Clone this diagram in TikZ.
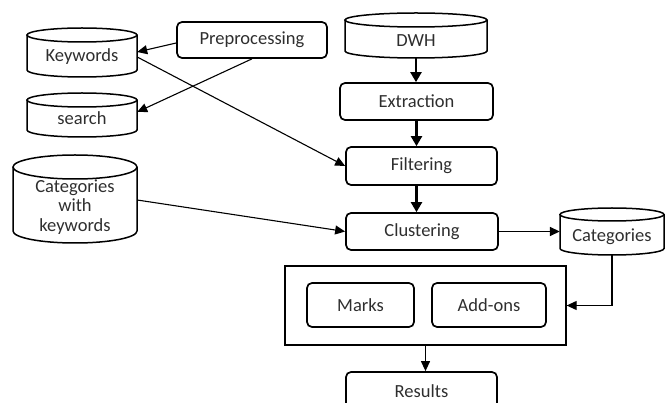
\documentclass[tikz,border=0pt]{standalone}
\usepackage{fontspec}
\setmainfont{Carlito}
\usetikzlibrary{arrows.meta,calc}

\tikzset{
  lbl/.style={text=black!82, font=\fontsize{18.5}{19.5}\selectfont},
  procbox/.style={draw, line width=1.7pt, rounded corners=5pt, lbl, inner sep=0pt},
  cylline/.style={draw, line width=1.5pt},
  cyltext/.style={lbl, inner sep=0pt, align=center},
  thinarrow/.style={line width=1.1pt, -{Triangle[length=10pt,width=9pt]}},
  flowarrow/.style={line width=2.2pt, -{Triangle[length=10pt,width=11pt]}},
}

% database cylinder: name, x-left, x-right, y-top, y-bottom, ellipse half-height, text y, text
\newcommand\dbcyl[8]{%
  \path[cylline] (#2,{#4+#6}) -- (#2,{#5-#6})
     arc[start angle=180,end angle=0,x radius={(#3-#2)/2},y radius=#6] -- (#3,{#4+#6});
  \draw[cylline] ({(#2+#3)/2},{#4+#6}) ellipse[x radius={(#3-#2)/2},y radius=#6];
  \node[cyltext, minimum width={(#3-#2)*1pt}] (#1) at ({(#2+#3)/2},#7) {#8};
  \coordinate (#1-bot) at ({(#2+#3)/2},#5);
}

\begin{document}
\begin{tikzpicture}[x=1pt,y=-1pt]
  \useasboundingbox (0,0) rectangle (665,403);
  \clip (0,0) rectangle (665,403);

  % data stores
  \dbcyl{kw}{27}{137}{28}{77}{7}{57}{Keywords}
  \dbcyl{srch}{27}{137}{93}{137}{7}{118}{search}
  \dbcyl{catkw}{13}{137}{155}{243}{12}{207}{Categories\\with\\keywords}
  \dbcyl{dwh}{345}{487}{13}{58}{7}{41}{DWH}
  \dbcyl{cats}{560}{664}{208}{255}{6.5}{237}{Categories}

  % processing steps
  \node[procbox, minimum width=150pt, minimum height=36pt] (pre) at (252,40) {Preprocessing};
  \node[procbox, minimum width=153pt, minimum height=37pt] (ext) at (416.5,101.5) {Extraction};
  \node[procbox, minimum width=151pt, minimum height=38pt] (fil) at (421.5,166) {Filtering};
  \node[procbox, minimum width=152pt, minimum height=37pt] (clu) at (422,231.5) {Clustering};
  \node[procbox, minimum width=151pt, minimum height=38pt] (res) at (421.5,391) {Results};

  % evaluation block
  \node[draw, line width=1.3pt, minimum width=281pt, minimum height=79pt, inner sep=0pt] (eval) at (425.5,305.5) {};
  \node[procbox, minimum width=107pt, minimum height=44pt] (marks) at (360.5,305) {Marks};
  \node[procbox, minimum width=114pt, minimum height=44pt] (addons) at (489,305) {Add-ons};

  % main flow
  \draw[flowarrow] (dwh-bot) -- (dwh-bot |- ext.north);
  \draw[flowarrow] (ext.south) -- (ext.south |- fil.north);
  \draw[flowarrow] (fil.south -| ext.south) -- (ext.south |- clu.north);
  \draw[thinarrow, line width=1.6pt] (clu.east) -- (clu.east -| cats.west);
  \draw[thinarrow] (cats-bot) |- (eval.east);
  \draw[thinarrow] (eval.south) -- (eval.south |- res.north);

  % side inputs
  \draw[thinarrow] ([yshift=-3pt]pre.west) -- ([yshift=5pt]kw.east);
  \draw[thinarrow] (pre.south) -- ([yshift=6pt]srch.east);
  \draw[thinarrow] (kw.east) -- (fil.west);
  \draw[thinarrow] ([yshift=7pt]catkw.east) -- (clu.west);
\end{tikzpicture}
\end{document}
